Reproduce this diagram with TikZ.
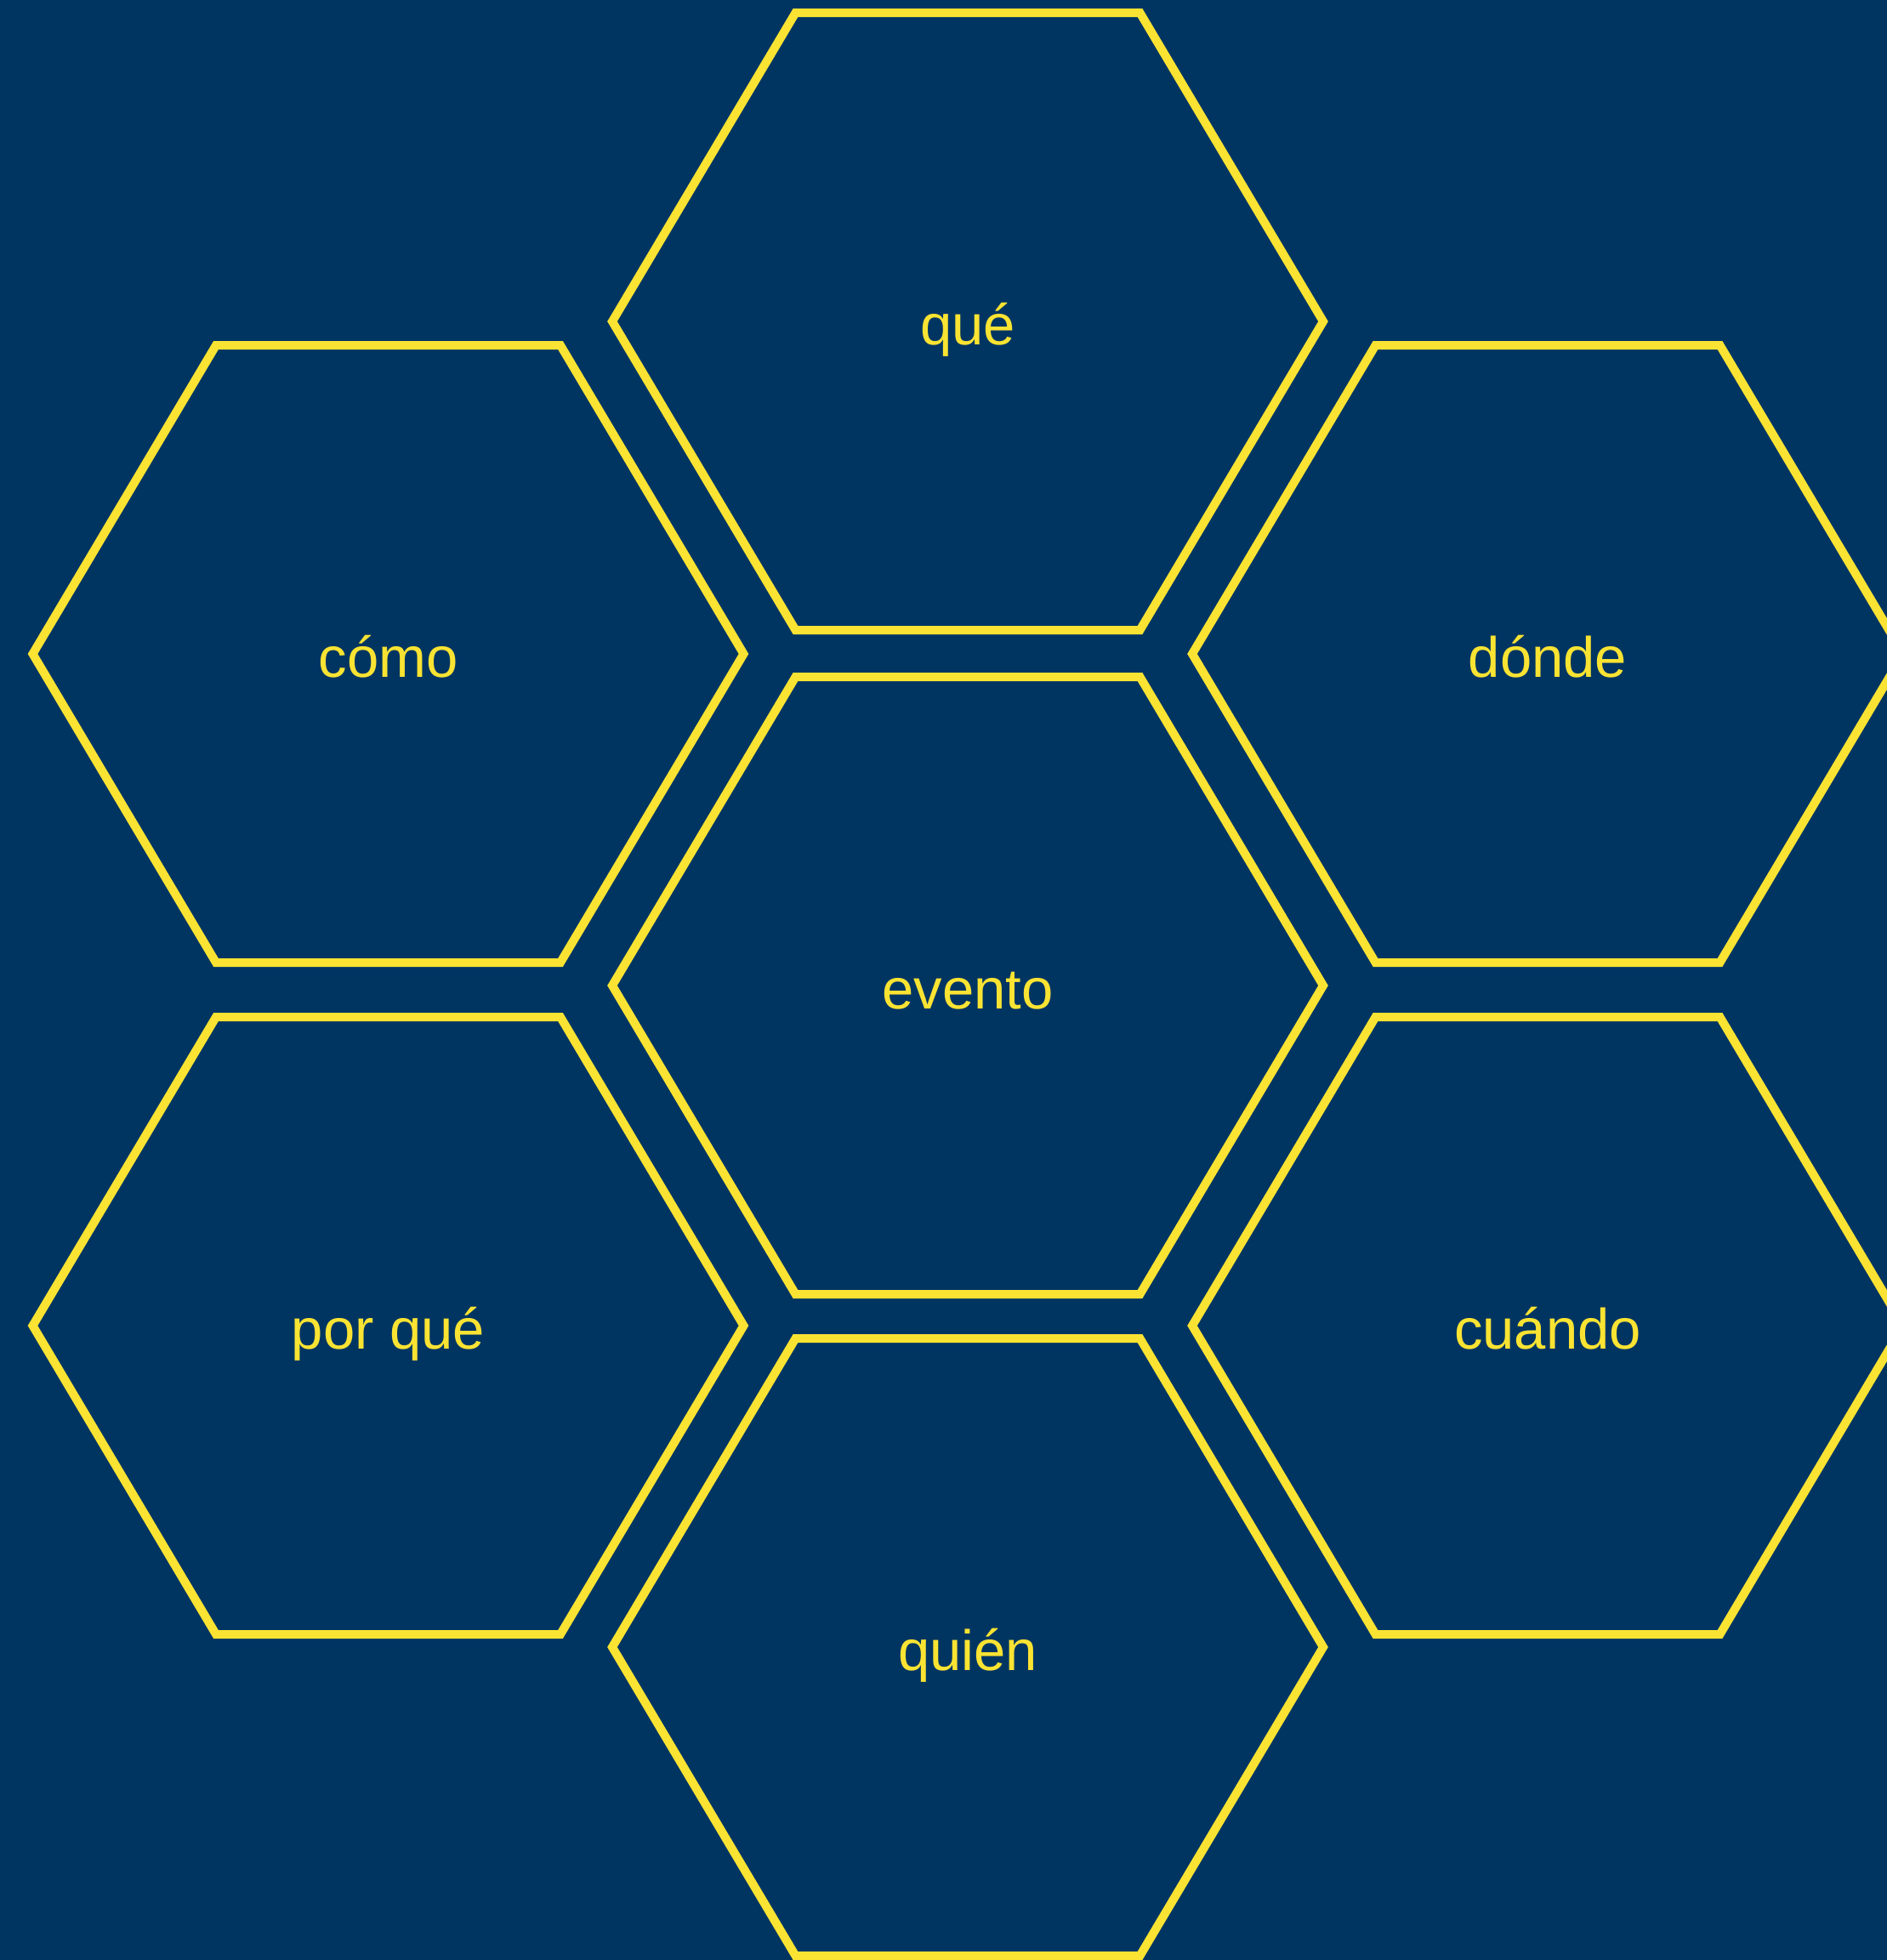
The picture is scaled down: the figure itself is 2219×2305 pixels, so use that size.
\documentclass[tikz,border=0pt]{standalone}
\usepackage{fontspec}
\setmainfont{Liberation Sans}
\definecolor{bgblue}{RGB}{0,53,98}
\definecolor{hexyellow}{RGB}{250,227,50}
\newcommand\hexcell[4]{%
  \draw[hexline] (#1-418,#2) -- (#1-202.5,#2-363) -- (#1+202.5,#2-363) -- (#1+418,#2) -- (#1+202.5,#2+363) -- (#1-202.5,#2+363) -- cycle;
  \node[lbl] (#3) at (#1,#2+27) {#4};%
}
\begin{document}
\begin{tikzpicture}[x=1pt,y=-1pt,
  hexline/.style={draw=hexyellow,line width=10pt},
  lbl/.style={text=hexyellow,anchor=base,inner sep=0pt,font=\fontsize{67}{80}\selectfont}]
\fill[bgblue] (0,0) rectangle (2219,2305);
\useasboundingbox (0,0) rectangle (2219,2305);
\begin{scope}
\clip (0,0) rectangle (2219,2305);
\hexcell{1138}{378}{que}{qué}
\hexcell{456.5}{769}{como}{cómo}
\hexcell{1820}{769}{donde}{dónde}
\hexcell{1138}{1159}{evento}{evento}
\hexcell{456.5}{1559}{porque}{por qué}
\hexcell{1820}{1559}{cuando}{cuándo}
\hexcell{1138}{1937}{quien}{quién}
\end{scope}
\end{tikzpicture}
\end{document}
